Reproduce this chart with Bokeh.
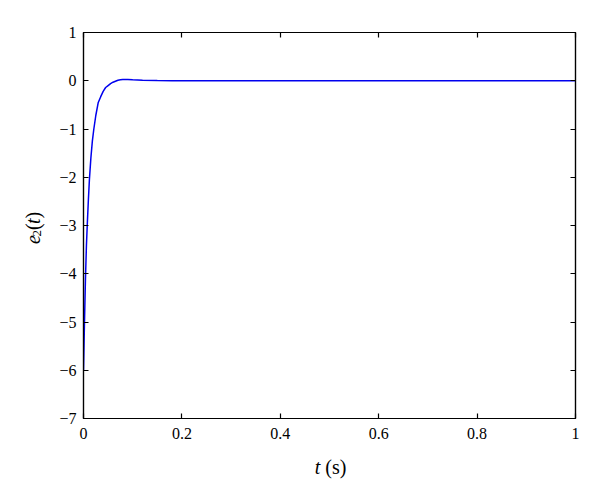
import math
from bokeh.plotting import figure
from bokeh.models import FixedTicker, CustomJSTickFormatter, LinearAxis, Label, Range1d
from bokeh.layouts import row, column
from bokeh.embed import file_html
from bokeh.resources import INLINE

# ---- data ----
t = [0, 0.002, 0.004, 0.006, 0.008, 0.010, 0.012, 0.015, 0.018, 0.021, 0.025,
     0.030, 0.035, 0.040, 0.045, 0.050, 0.055, 0.060, 0.065, 0.070, 0.075,
     0.080, 0.090, 0.100, 0.120, 0.150, 0.180, 0.250, 0.400, 0.600, 0.800, 1.0]
e2 = [-6.0, -5.0, -4.1, -3.4, -2.9, -2.45, -2.05, -1.6, -1.25, -1.0, -0.72,
      -0.45, -0.33, -0.22, -0.14, -0.10, -0.06, -0.03, -0.01, 0.01, 0.02,
      0.025, 0.025, 0.02, 0.012, 0.005, 0.0, 0.0, 0.0, 0.0, 0.0, 0.0]
x_ticks = [0, 0.2, 0.4, 0.6, 0.8, 1]
y_ticks = [-7, -6, -5, -4, -3, -2, -1, 0, 1]

FONT = "Liberation Serif"

YW = 55      # width of the strip holding the y-axis title
XH = 50      # height of the strip holding the x-axis title
MAIN_H = 497 - XH

p = figure(frame_width=492, frame_height=386, x_range=(0, 1), y_range=(-7, 1),
           output_backend="svg", toolbar_location=None,
           min_border_left=83 - YW, min_border_right=25, min_border_top=32,
           min_border_bottom=MAIN_H - 32 - 386)
p.xgrid.visible = False
p.ygrid.visible = False
p.outline_line_color = "black"
p.outline_line_width = 1.2
p.background_fill_color = "white"
p.border_fill_color = "white"

p.line(t, e2, line_color="#0000ee", line_width=1.5)

fmt = CustomJSTickFormatter(code="return tick < 0 ? '\\u2212' + Math.abs(tick) : tick.toString();")
blank = CustomJSTickFormatter(code="return '';")

def style(ax, ticks, labels=True):
    ax.ticker = FixedTicker(ticks=ticks)
    ax.major_tick_in = 5
    ax.major_tick_out = 0
    ax.minor_tick_line_color = None
    ax.axis_line_color = "black"
    ax.axis_line_width = 1.2
    ax.major_tick_line_width = 1.2
    ax.major_label_text_font = FONT
    ax.major_label_text_color = "black"
    ax.major_label_text_font_size = "16px"
    if labels:
        ax.formatter = fmt
    else:
        ax.formatter = blank
        ax.major_label_standoff = 0

style(p.xaxis[0], x_ticks)
p.xaxis[0].major_label_standoff = 9
style(p.yaxis[0], y_ticks)
p.yaxis[0].major_label_standoff = 7

top = LinearAxis()
style(top, x_ticks, labels=False)
p.add_layout(top, "above")
right = LinearAxis()
style(right, y_ticks, labels=False)
p.add_layout(right, "right")


def strip(w, h, xr, yr):
    f = figure(width=w, height=h, x_range=xr, y_range=yr,
               x_axis_type=None, y_axis_type=None, output_backend="svg",
               toolbar_location=None, min_border=0)
    f.outline_line_color = None
    f.background_fill_color = "white"
    f.border_fill_color = "white"
    return f

# y-axis title strip: coordinates equal page pixels (y downward)
yfig = strip(YW, MAIN_H, Range1d(0, YW), Range1d(MAIN_H, 0))
ang = math.pi / 2
pieces = [("e", 245, "italic", "20px", 0),
          ("2", 236.1, "normal", "13px", 4),
          ("(", 228.6, "normal", "20px", 0),
          ("t", 221.9, "italic", "20px", 0),
          (")", 215.3, "normal", "20px", 0)]
for txt, py, style_, size, dx in pieces:
    yfig.add_layout(Label(x=32 + dx, y=py, text=txt, angle=ang,
                          text_font=FONT, text_font_style=style_,
                          text_color="black", text_font_size=size,
                          text_align="left", text_baseline="alphabetic"))

# x-axis title strip: coordinates equal page pixels
xfig = strip(600, XH, Range1d(0, 600), Range1d(497, MAIN_H))
xfig.add_layout(Label(x=319.8, y=466, text="t", text_font=FONT,
                      text_font_style="italic", text_font_size="20px",
                      text_color="black", text_align="right",
                      text_baseline="alphabetic"))
xfig.add_layout(Label(x=324.8, y=466, text="(s)", text_font=FONT,
                      text_font_size="20px", text_color="black",
                      text_align="left", text_baseline="alphabetic"))

layout = column(row(yfig, p, spacing=0), xfig, spacing=0)

open("out.html", "w").write(file_html(layout, INLINE))
